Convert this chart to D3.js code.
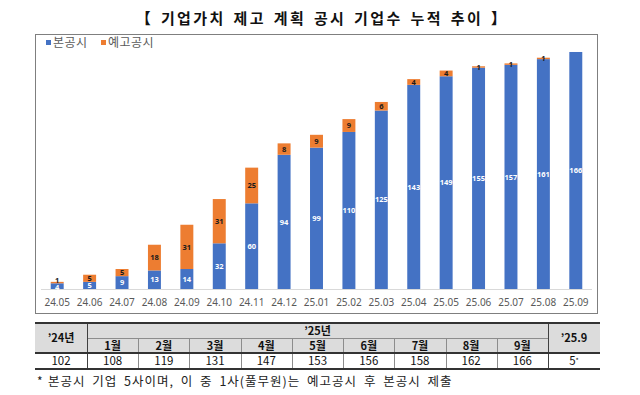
<!DOCTYPE html>
<html>
<head>
<meta charset="utf-8">
<script src="https://cdn.jsdelivr.net/npm/d3@7"></script>
<style>
  body { margin: 0; background: #fff; }
  text { font-family: "Noto Sans CJK KR", "Noto Sans", sans-serif; }
</style>
</head>
<body>
<script>
'use strict';

// chart data
const months = ['24.05', '24.06', '24.07', '24.08', '24.09', '24.10', '24.11', '24.12',
  '25.01', '25.02', '25.03', '25.04', '25.05', '25.06', '25.07', '25.08', '25.09']
const mainDisclosure = [4, 5, 9, 13, 14, 32, 60, 94, 99, 110, 125, 143, 149, 155, 157, 161, 166]
const preDisclosure = [1, 5, 5, 18, 31, 31, 25, 8, 9, 9, 6, 4, 4, 1, 1, 1, 0]
const seriesNames = ['본공시', '예고공시']

// table data
const tableMonths = ['1월', '2월', '3월', '4월', '5월', '6월', '7월', '8월', '9월']
const tableValues = [108, 119, 131, 147, 153, 156, 158, 162, 166]
const prevYearLabel = '’24년'
const prevYearValue = 102
const yearLabel = '’25년'
const lastLabel = '’25.9'
const lastValue = '5'

const colors = { '본공시': '#4472C4', '예고공시': '#ED7D31' }

const m = { width: 640, height: 395 }

const svg = d3.select('body')
  .append('svg')
  .attr('width', m.width)
  .attr('height', m.height)

// title
svg.append('text')
  .attr('x', 322)
  .attr('y', 24)
  .attr('text-anchor', 'middle')
  .style('font-size', '15px')
  .style('font-weight', 'bold')
  .style('letter-spacing', '2.4px')
  .style('word-spacing', '2px')
  .style('fill', '#111')
  .text('【 기업가치 제고 계획 공시 기업수 누적 추이 】')

// chart frame
svg.append('rect')
  .attr('x', 35.5)
  .attr('y', 34.5)
  .attr('width', 562)
  .attr('height', 279)
  .style('fill', 'none')
  .style('stroke', '#7f7f7f')
  .style('stroke-width', 1)

// legend
let legend = svg.selectAll('.legend')
  .data(seriesNames)
  .enter().append('g')
  .attr('class', 'legend')
  .attr('transform', function(d, i) { return 'translate(' + (i == 0 ? 46 : 101) + ',40)' })

legend.append('rect')
  .attr('width', 5)
  .attr('height', 5)
  .style('fill', function(d) { return colors[d] })

legend.append('text')
  .attr('x', 7)
  .attr('y', 3)
  .attr('dy', '.35em')
  .style('font-size', '12px')
  .style('letter-spacing', '0.5px')
  .style('fill', '#595959')
  .text(function(d) { return d })

// scales
let xScale = d3.scaleBand()
  .domain(months)
  .range([41, 592])
  .paddingInner(0.6)
  .paddingOuter(0.3)

let yScale = d3.scaleLinear()
  .domain([0, 180])
  .range([289, 32])

let rows = months.map(function(d, i) {
  return { month: d, main: mainDisclosure[i], pre: preDisclosure[i] }
})
let stacked = d3.stack().keys(['main', 'pre'])(rows)

// baseline
svg.append('line')
  .attr('x1', 41)
  .attr('x2', 592)
  .attr('y1', yScale(0) + 0.5)
  .attr('y2', yScale(0) + 0.5)
  .style('stroke', '#d9d9d9')

let layers = svg.selectAll('.layer')
  .data(stacked)
  .enter().append('g')
  .attr('class', 'layer')
  .style('fill', function(d) { return d.key == 'main' ? colors['본공시'] : colors['예고공시'] })

layers.selectAll('rect')
  .data(function(d) { return d.filter(function(s) { return s[1] > s[0] }) })
  .enter().append('rect')
  .attr('x', function(d) { return xScale(d.data.month) })
  .attr('width', xScale.bandwidth())
  .attr('y', function(d) { return yScale(d[1]) })
  .attr('height', function(d) { return yScale(d[0]) - yScale(d[1]) })

// value labels
layers.each(function(layer) {
  d3.select(this).selectAll('.val')
    .data(layer.filter(function(s) { return s[1] > s[0] }))
    .enter().append('text')
    .attr('class', 'val')
    .attr('x', function(d) { return xScale(d.data.month) + xScale.bandwidth() / 2 })
    .attr('y', function(d) {
      let y = (yScale(d[0]) + yScale(d[1])) / 2
      // tiny first bars: keep labels apart like the original
      if (d.data.month == '24.05') y += layer.key == 'main' ? 1.5 : -2
      return y
    })
    .attr('dy', '.35em')
    .attr('text-anchor', 'middle')
    .style('font-family', '"Noto Sans", sans-serif')
    .style('font-size', '7.5px')
    .style('font-weight', 'bold')
    .style('fill', layer.key == 'main' ? '#fff' : '#1a1a1a')
    .text(function(d) { return d[1] - d[0] })
})

// x axis labels
let xAxis = d3.axisBottom(xScale).tickSize(0).tickPadding(10)
let gx = svg.append('g')
  .attr('transform', 'translate(0,' + yScale(0) + ')')
  .call(xAxis)
gx.select('.domain').remove()
gx.selectAll('text')
  .style('font-family', '"Noto Sans", sans-serif')
  .style('font-size', '10px')
  .style('fill', '#595959')

// table
const t = { left: 35, right: 600, col1: 87, col2: 548, top: 323, r1: 338, r2: 353, bottom: 369 }

let colScale = d3.scaleBand()
  .domain(tableMonths)
  .range([t.col1, t.col2])

let table = svg.append('g').attr('class', 'table')

table.append('rect')
  .attr('x', t.left)
  .attr('y', t.top)
  .attr('width', t.right - t.left)
  .attr('height', t.r2 - t.top)
  .style('fill', '#dcdcdc')

// inner thin lines
table.append('line')
  .attr('x1', t.col1).attr('x2', t.col2)
  .attr('y1', t.r1 + 0.5).attr('y2', t.r1 + 0.5)
  .style('stroke', '#8c8c8c')

table.selectAll('.vline')
  .data(tableMonths.slice(1))
  .enter().append('line')
  .attr('class', 'vline')
  .attr('x1', function(d) { return Math.round(colScale(d)) + 0.5 })
  .attr('x2', function(d) { return Math.round(colScale(d)) + 0.5 })
  .attr('y1', t.r1)
  .attr('y2', t.bottom)
  .style('stroke', '#8c8c8c')

table.selectAll('.vmain')
  .data([t.col1, t.col2])
  .enter().append('line')
  .attr('class', 'vmain')
  .attr('x1', function(d) { return d + 0.5 })
  .attr('x2', function(d) { return d + 0.5 })
  .attr('y1', t.top)
  .attr('y2', t.bottom)
  .style('stroke', '#404040')

// thick horizontal lines
table.selectAll('.hline')
  .data([t.top, t.r2, t.bottom])
  .enter().append('line')
  .attr('class', 'hline')
  .attr('x1', t.left).attr('x2', t.right)
  .attr('y1', function(d) { return d })
  .attr('y2', function(d) { return d })
  .style('stroke', '#333')
  .style('stroke-width', 2)

// header texts
let hdr = [
  { x: (t.left + t.col1) / 2, y: (t.top + t.r2) / 2, text: prevYearLabel },
  { x: (t.col1 + t.col2) / 2, y: (t.top + t.r1) / 2 + 1, text: yearLabel },
  { x: (t.col2 + t.right) / 2, y: (t.top + t.r2) / 2, text: lastLabel }
]
table.selectAll('.hdr')
  .data(hdr)
  .enter().append('text')
  .attr('class', 'hdr')
  .attr('x', function(d) { return d.x })
  .attr('y', function(d) { return d.y })
  .attr('dy', '.35em')
  .attr('text-anchor', 'middle')
  .style('font-size', '11px')
  .style('font-weight', 'bold')
  .style('fill', '#111')
  .text(function(d) { return d.text })

table.selectAll('.mhdr')
  .data(tableMonths)
  .enter().append('text')
  .attr('class', 'mhdr')
  .attr('x', function(d) { return colScale(d) + colScale.bandwidth() / 2 })
  .attr('y', (t.r1 + t.r2) / 2 + 1)
  .attr('dy', '.35em')
  .attr('text-anchor', 'middle')
  .style('font-size', '11px')
  .style('font-weight', 'bold')
  .style('fill', '#111')
  .text(function(d) { return d })

// data row
let cells = [{ x: (t.left + t.col1) / 2, text: prevYearValue }]
  .concat(tableMonths.map(function(d, i) {
    return { x: colScale(d) + colScale.bandwidth() / 2, text: tableValues[i] }
  }))

table.selectAll('.cell')
  .data(cells)
  .enter().append('text')
  .attr('class', 'cell')
  .attr('x', function(d) { return d.x })
  .attr('y', (t.r2 + t.bottom) / 2)
  .attr('dy', '.35em')
  .attr('text-anchor', 'middle')
  .style('font-size', '11.5px')
  .style('fill', '#111')
  .text(function(d) { return d.text })

let last = table.append('text')
  .attr('x', (t.col2 + t.right) / 2)
  .attr('y', (t.r2 + t.bottom) / 2)
  .attr('dy', '.35em')
  .attr('text-anchor', 'middle')
  .style('font-size', '11.5px')
  .style('fill', '#111')
last.append('tspan').text(lastValue)
last.append('tspan')
  .attr('dy', '-0.35em')
  .style('font-size', '7px')
  .text('*')

// footnote
svg.append('text')
  .attr('x', 37)
  .attr('y', 382)
  .attr('dy', '.35em')
  .style('font-size', '12px')
  .style('fill', '#222')
  .text('*')

svg.append('text')
  .attr('x', 48)
  .attr('y', 382)
  .attr('dy', '.35em')
  .style('font-size', '12.5px')
  .style('letter-spacing', '1px')
  .style('word-spacing', '3px')
  .style('fill', '#222')
  .text('본공시 기업 5사이며, 이 중 1사(풀무원)는 예고공시 후 본공시 제출')
</script>
</body>
</html>
